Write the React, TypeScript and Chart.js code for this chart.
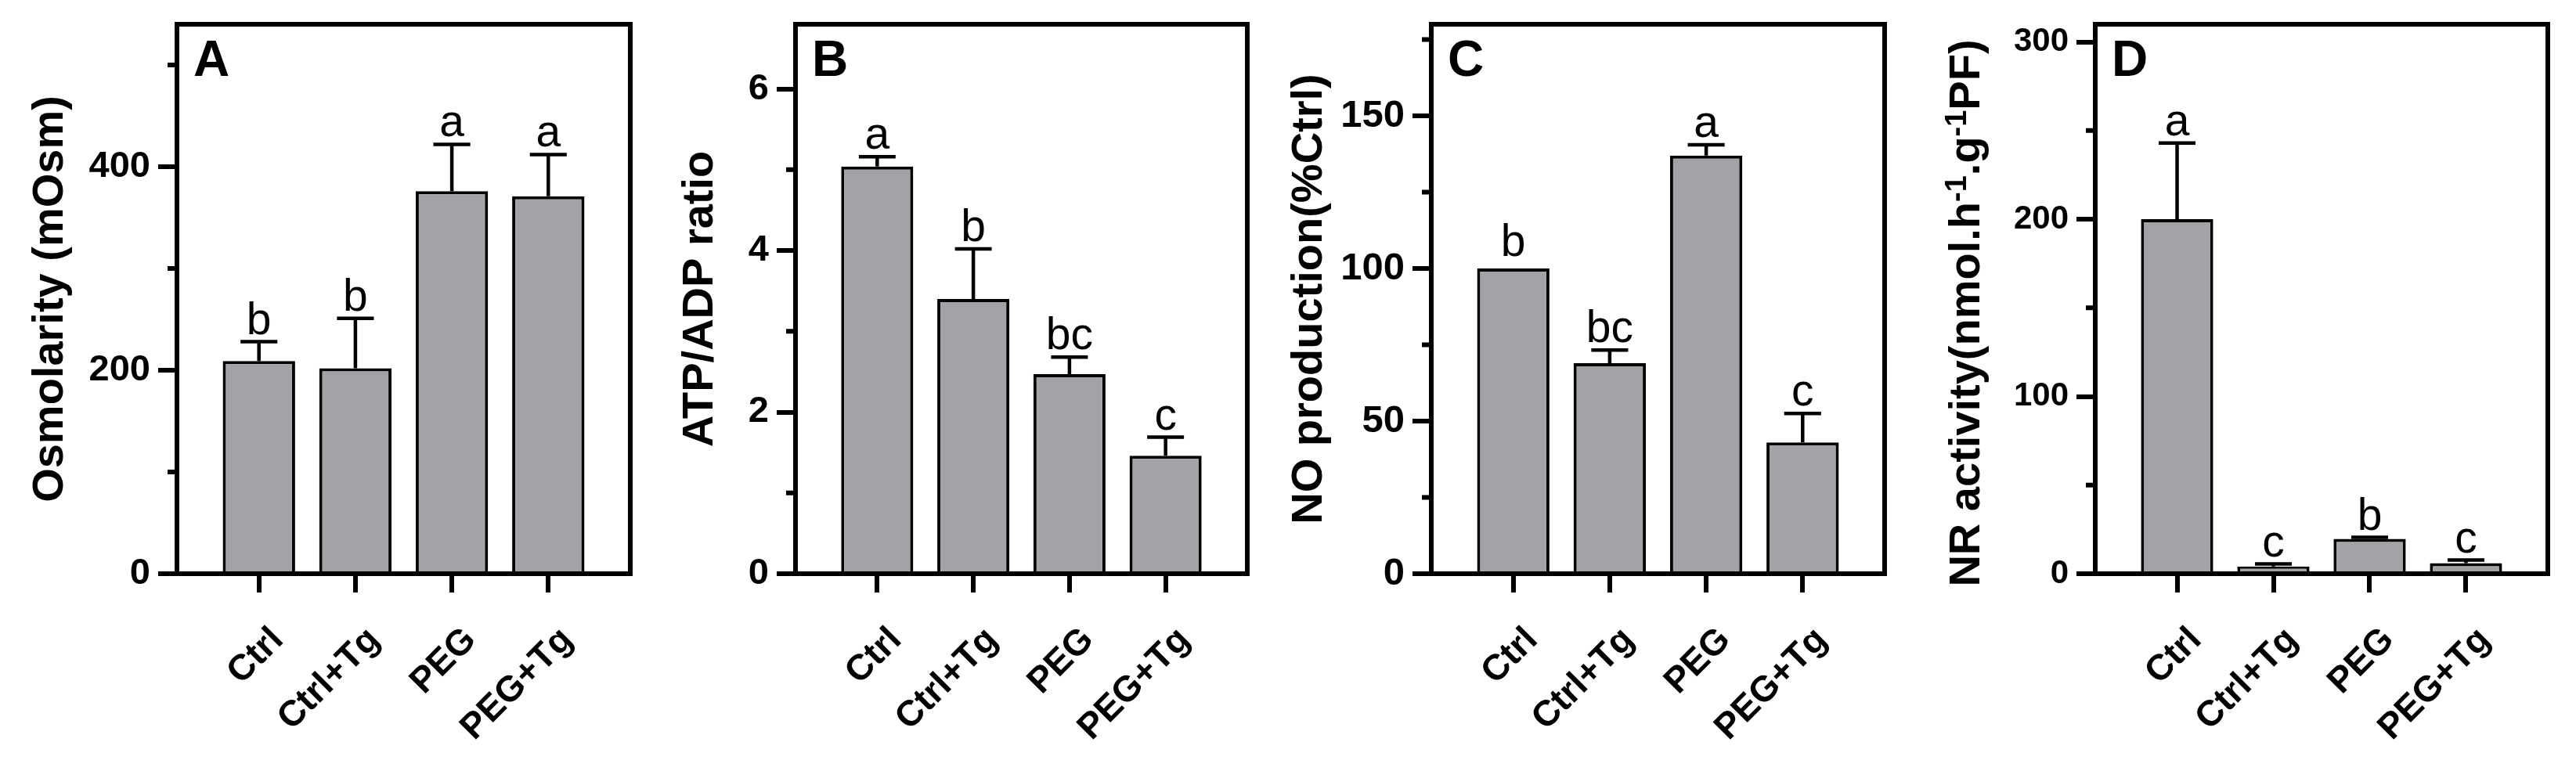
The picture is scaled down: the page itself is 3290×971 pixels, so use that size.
import React, { useEffect, useRef } from 'react';
import { Chart, registerables } from 'chart.js';

Chart.register(...registerables);

// ---------- data ----------
const GROUPS = ['Ctrl', 'Ctrl+Tg', 'PEG', 'PEG+Tg'];

// A: osmolarity (mOsm)
const osmolarityMean = [209, 202, 376, 371];
const osmolaritySem = [19, 49, 46, 41];
const osmolarityLetters = ['b', 'b', 'a', 'a'];
const osmolarityTicks = [0, 200, 400];
const osmolarityMinorTicks = [100, 300, 500];

// B: ATP/ADP ratio
const atpAdpMean = [5.04, 3.4, 2.47, 1.46];
const atpAdpSem = [0.12, 0.62, 0.21, 0.23];
const atpAdpLetters = ['a', 'b', 'bc', 'c'];
const atpAdpTicks = [0, 2, 4, 6];
const atpAdpMinorTicks = [1, 3, 5];

// C: NO production (% of Ctrl)
const noMean = [100, 69, 137, 43];
const noSem = [0, 4.3, 3.5, 9.5];
const noLetters = ['b', 'bc', 'a', 'c'];
const noTicks = [0, 50, 100, 150];
const noMinorTicks = [25, 75, 125, 175];

// D: nitrate reductase activity
const nrMean = [200, 4.1, 19.7, 6.0];
const nrSem = [43, 1.4, 0.8, 1.7];
const nrLetters = ['a', 'c', 'b', 'c'];
const nrTicks = [0, 100, 200, 300];
const nrMinorTicks = [50, 150, 250];

// ---------- styling ----------
const FONT = '"Liberation Sans", Arial, Helvetica, sans-serif';
const BAR_FILL = '#a3a2a7';
const INK = '#000000';
const AXIS_W = 6;
const CANVAS_H = 971;
const PLOT_TOP = 31;
const PLOT_BOTTOM = 733;
const PAD_RIGHT = 8;

type Seg = { text: string; sup?: boolean };

type PanelSpec = {
  letter: string;
  title: Seg[];
  titleBaselineX: number;
  titleCenterShift: number;
  canvasLeft: number;
  plotLeft: number;
  plotRight: number;
  yMax: number;
  ticks: number[];
  minorTicks: number[];
  tickFontSize: number;
  mean: number[];
  sem: number[];
  letters: string[];
};

const PANELS: PanelSpec[] = [
  {
    letter: 'A',
    title: [{ text: 'Osmolarity (mOsm)' }],
    titleBaselineX: 80,
    titleCenterShift: 0,
    canvasLeft: 0,
    plotLeft: 226,
    plotRight: 805,
    yMax: 540,
    ticks: osmolarityTicks,
    minorTicks: osmolarityMinorTicks,
    tickFontSize: 47,
    mean: osmolarityMean,
    sem: osmolaritySem,
    letters: osmolarityLetters,
  },
  {
    letter: 'B',
    title: [{ text: 'ATP/ADP ratio' }],
    titleBaselineX: 910,
    titleCenterShift: 0,
    canvasLeft: 820,
    plotLeft: 1016,
    plotRight: 1593,
    yMax: 6.8,
    ticks: atpAdpTicks,
    minorTicks: atpAdpMinorTicks,
    tickFontSize: 47,
    mean: atpAdpMean,
    sem: atpAdpSem,
    letters: atpAdpLetters,
  },
  {
    letter: 'C',
    title: [{ text: 'NO production(%Ctrl)' }],
    titleBaselineX: 1688,
    titleCenterShift: 0,
    canvasLeft: 1610,
    plotLeft: 1828,
    plotRight: 2407,
    yMax: 180,
    ticks: noTicks,
    minorTicks: noMinorTicks,
    tickFontSize: 49,
    mean: noMean,
    sem: noSem,
    letters: noLetters,
  },
  {
    letter: 'D',
    title: [
      { text: 'NR activity(nmol.h' },
      { text: '-1', sup: true },
      { text: '.g' },
      { text: '-1', sup: true },
      { text: 'PF)' },
    ],
    titleBaselineX: 2528,
    titleCenterShift: 18,
    canvasLeft: 2420,
    plotLeft: 2676,
    plotRight: 3254,
    yMax: 310,
    ticks: nrTicks,
    minorTicks: nrMinorTicks,
    tickFontSize: 42,
    mean: nrMean,
    sem: nrSem,
    letters: nrLetters,
  },
];

// ---------- plugins ----------

// Closes the plot box (top and right edges) like a framed graph.
const framePlugin = {
  id: 'frame',
  afterDraw(chart: any) {
    const { ctx, chartArea } = chart;
    const h = AXIS_W / 2;
    ctx.save();
    ctx.strokeStyle = INK;
    ctx.lineWidth = AXIS_W;
    ctx.beginPath();
    ctx.moveTo(chartArea.left - h, chartArea.top);
    ctx.lineTo(chartArea.right + h, chartArea.top);
    ctx.moveTo(chartArea.right, chartArea.top - h);
    ctx.lineTo(chartArea.right, chartArea.bottom + h);
    ctx.stroke();
    ctx.restore();
  },
};

// Short unlabeled ticks between the labeled ones on the value axis.
const minorTickPlugin = {
  id: 'minorTicks',
  afterDraw(chart: any, _args: any, opts: any) {
    const y = chart.scales.y;
    const { ctx, chartArea } = chart;
    ctx.save();
    ctx.strokeStyle = INK;
    ctx.lineWidth = AXIS_W;
    ctx.beginPath();
    (opts.values || []).forEach((v: number) => {
      const py = y.getPixelForValue(v);
      ctx.moveTo(chartArea.left - 12, py);
      ctx.lineTo(chartArea.left, py);
    });
    ctx.stroke();
    ctx.restore();
  },
};

// Upward SEM bars with caps, plus significance letters above them.
const errorBarPlugin = {
  id: 'errorBars',
  afterDatasetsDraw(chart: any, _args: any, opts: any) {
    const { ctx } = chart;
    const y = chart.scales.y;
    const meta = chart.getDatasetMeta(0);
    const ds = chart.data.datasets[0];
    ctx.save();
    ctx.strokeStyle = INK;
    ctx.fillStyle = INK;
    ctx.lineWidth = 4.5;
    meta.data.forEach((bar: any, i: number) => {
      const value = ds.data[i].y;
      const err = opts.sem[i] || 0;
      const base = y.getPixelForValue(value);
      const top = y.getPixelForValue(value + err);
      const half = bar.width * 0.255;
      if (err > 0) {
        ctx.beginPath();
        ctx.moveTo(bar.x, base);
        ctx.lineTo(bar.x, top);
        ctx.moveTo(bar.x - half, top);
        ctx.lineTo(bar.x + half, top);
        ctx.stroke();
      }
      ctx.font = `57px ${FONT}`;
      ctx.textAlign = 'center';
      ctx.textBaseline = 'alphabetic';
      ctx.fillText(opts.letters[i], bar.x, top - (err > 0 ? 10 : 16));
    });
    ctx.restore();
  },
};

// Panel letter inside the box and the rotated value-axis title.
const panelTextPlugin = {
  id: 'panelText',
  afterDraw(chart: any, _args: any, opts: any) {
    const { ctx, chartArea } = chart;
    ctx.save();
    ctx.fillStyle = INK;
    ctx.font = `bold 64px ${FONT}`;
    ctx.textAlign = 'left';
    ctx.textBaseline = 'alphabetic';
    ctx.fillText(opts.letter, chartArea.left + 21, 97);

    const size = 56;
    const mainFont = `bold ${size}px ${FONT}`;
    const supFont = `bold ${Math.round(size * 0.68)}px ${FONT}`;
    const segs: Seg[] = opts.title;
    let total = 0;
    const widths = segs.map((s) => {
      ctx.font = s.sup ? supFont : mainFont;
      const w = ctx.measureText(s.text).width;
      total += w;
      return w;
    });
    const centerY = (chartArea.top + chartArea.bottom) / 2 + opts.titleCenterShift;
    ctx.translate(opts.titleX, centerY);
    ctx.rotate(-Math.PI / 2);
    let x = -total / 2;
    segs.forEach((s, i) => {
      ctx.font = s.sup ? supFont : mainFont;
      ctx.fillText(s.text, x, s.sup ? -size * 0.3 : 0);
      x += widths[i];
    });
    ctx.restore();
  },
};

function Panel({ spec }: { spec: PanelSpec }) {
  const ref = useRef<HTMLCanvasElement>(null);
  const width = spec.plotRight - spec.canvasLeft + PAD_RIGHT;

  useEffect(() => {
    const canvas = ref.current;
    if (!canvas) return;
    const yAxisWidth = spec.plotLeft - spec.canvasLeft;
    const chart = new Chart(canvas, {
      type: 'bar',
      data: {
        datasets: [
          {
            data: spec.mean.map((v, i) => ({ x: i, y: v })),
            backgroundColor: BAR_FILL,
            borderColor: INK,
            borderWidth: 4,
            borderSkipped: 'start',
            barPercentage: 0.75,
            categoryPercentage: 1,
          },
        ],
      },
      options: {
        responsive: false,
        maintainAspectRatio: false,
        animation: false,
        devicePixelRatio: 1,
        layout: {
          padding: { left: 0, right: PAD_RIGHT, top: PLOT_TOP, bottom: 0 },
        },
        plugins: {
          legend: { display: false },
          tooltip: { enabled: false },
          title: { display: false },
          minorTicks: { values: spec.minorTicks },
          errorBars: { sem: spec.sem, letters: spec.letters },
          panelText: {
            letter: spec.letter,
            title: spec.title,
            titleX: spec.titleBaselineX - spec.canvasLeft,
            titleCenterShift: spec.titleCenterShift,
          },
        } as any,
        scales: {
          x: {
            type: 'linear',
            min: -0.85,
            max: 3.85,
            offset: false,
            z: 1,
            afterBuildTicks: (s: any) => {
              s.ticks = GROUPS.map((_, i) => ({ value: i }));
            },
            afterFit: (s: any) => {
              s.height = CANVAS_H - PLOT_BOTTOM;
              s.paddingLeft = 0;
              s.paddingRight = 0;
            },
            ticks: {
              autoSkip: false,
              minRotation: 45,
              maxRotation: 45,
              padding: 34,
              labelOffset: 24,
              color: INK,
              font: { family: FONT, size: 46, weight: 'bold' },
              callback: (v: any) => GROUPS[Math.round(Number(v))] ?? '',
            },
            grid: {
              offset: false,
              drawOnChartArea: false,
              drawTicks: true,
              tickLength: 24,
              tickWidth: AXIS_W,
              tickColor: INK,
              lineWidth: AXIS_W,
              color: INK,
            },
            border: { display: true, color: INK, width: AXIS_W },
          },
          y: {
            type: 'linear',
            min: 0,
            max: spec.yMax,
            z: 1,
            afterBuildTicks: (s: any) => {
              s.ticks = spec.ticks.map((v) => ({ value: v }));
            },
            afterFit: (s: any) => {
              s.width = yAxisWidth;
              s.paddingTop = 0;
              s.paddingBottom = 0;
            },
            ticks: {
              padding: 10,
              color: INK,
              font: { family: FONT, size: spec.tickFontSize, weight: 'bold' },
              callback: (v: any) => String(v),
            },
            grid: {
              offset: false,
              drawOnChartArea: false,
              drawTicks: true,
              tickLength: 24,
              tickWidth: AXIS_W,
              tickColor: INK,
              lineWidth: AXIS_W,
              color: INK,
            },
            border: { display: true, color: INK, width: AXIS_W },
          },
        },
      } as any,
      plugins: [framePlugin, minorTickPlugin, errorBarPlugin, panelTextPlugin],
    });
    return () => chart.destroy();
  }, [spec]);

  return (
    <canvas
      ref={ref}
      width={width}
      height={CANVAS_H}
      style={{
        position: 'absolute',
        left: spec.canvasLeft,
        top: 0,
        width,
        height: CANVAS_H,
      }}
    />
  );
}

export default function App() {
  return (
    <div
      style={{
        position: 'fixed',
        left: 0,
        top: 0,
        width: 3290,
        height: CANVAS_H,
        background: '#ffffff',
        overflow: 'hidden',
      }}
    >
      {PANELS.map((p) => (
        <Panel key={p.letter} spec={p} />
      ))}
    </div>
  );
}
